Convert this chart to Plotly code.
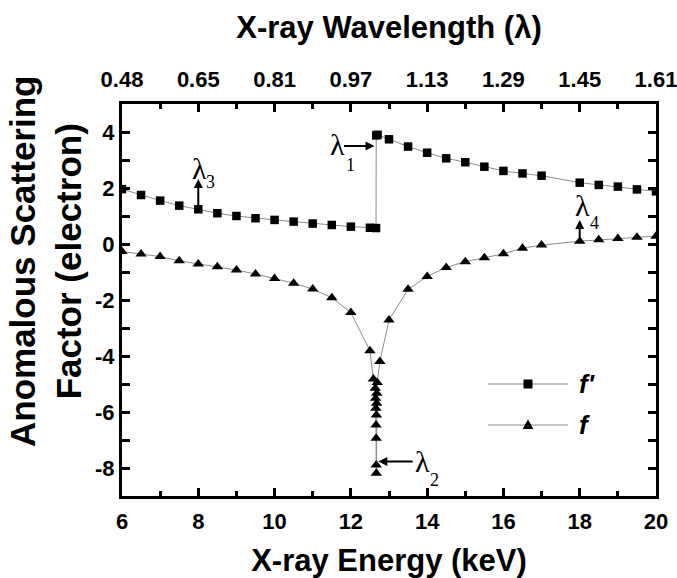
import plotly.graph_objects as go

# f'' (squares) versus X-ray energy in keV
energy_fpp = [6.0, 6.5, 7.0, 7.5, 8.0, 8.5, 9.0, 9.5, 10.0, 10.5, 11.0, 11.5, 12.0, 12.5,
              12.66, 12.665, 12.70,
              13.0, 13.5, 14.0, 14.5, 15.0, 15.5, 16.0, 16.5, 17.0,
              18.0, 18.5, 19.0, 19.5, 20.0]
fpp_values = [1.96, 1.75, 1.55, 1.37, 1.24, 1.10, 1.00, 0.92, 0.86, 0.80, 0.73, 0.68, 0.62, 0.58,
              0.57, 3.88, 3.90,
              3.74, 3.48, 3.26, 3.06, 2.92, 2.76, 2.61, 2.52, 2.44,
              2.19, 2.11, 2.05, 1.95, 1.88]

# f' (triangles) versus X-ray energy in keV, with the dense scan across the edge
energy_fp = [6.0, 6.5, 7.0, 7.5, 8.0, 8.5, 9.0, 9.5, 10.0, 10.5, 11.0, 11.5, 12.0, 12.5, 12.59,
             12.64, 12.65, 12.655, 12.66, 12.663, 12.665, 12.667,
             12.67, 12.675, 12.68, 12.69, 12.76,
             13.0, 13.5, 14.0, 14.5, 15.0, 15.5, 16.0, 16.5, 17.0,
             18.0, 18.5, 19.0, 19.5, 20.0]
fp_values = [-0.27, -0.36, -0.45, -0.60, -0.71, -0.81, -0.93, -1.07, -1.23, -1.40, -1.61, -1.92, -2.45, -3.81, -4.82,
             -5.15, -5.51, -5.87, -6.46, -6.94, -7.89, -8.19,
             -6.11, -5.69, -5.33, -4.95, -4.20,
             -2.71, -1.62, -1.16, -0.84, -0.63, -0.49, -0.35, -0.15, -0.04,
             0.10, 0.15, 0.20, 0.24, 0.28]

# axis ticks
energy_ticks = [6, 8, 10, 12, 14, 16, 18, 20]
wavelength_labels = ["0.48", "0.65", "0.81", "0.97", "1.13", "1.29", "1.45", "1.61"]
factor_ticks = [-8, -6, -4, -2, 0, 2, 4]

# wavelength markers: (subscript, arrow head x, y, arrow tail x, y,
#                      label x, y, subscript x, y)
lambda_marks = [
    ("1", 12.62, 3.50, 11.78, 3.50, 11.64, 3.54, 11.98, 2.82),
    ("2", 12.72, -7.77, 13.66, -7.77, 13.89, -7.75, 14.20, -8.43),
    ("3", 8.00, 2.32, 8.00, 1.30, 8.02, 2.70, 8.31, 2.21),
    ("4", 18.00, 0.86, 18.00, 0.18, 18.07, 1.39, 18.38, 0.76),
]

W, H = 677, 578
M_L, M_R, M_T, M_B = 122, 21, 104, 82
LINE_GREY = "#8c8c8c"
BOLD = "Liberation Sans"
SERIF = "Liberation Serif"


def px_x(p):
    """Pixel column -> paper x."""
    return (p - M_L) / (W - M_L - M_R)


def px_y(p):
    """Pixel row -> paper y."""
    return (H - M_B - p) / (H - M_T - M_B)


fig = go.Figure()

fig.add_trace(go.Scatter(
    x=energy_fpp, y=fpp_values, mode="lines+markers", name="f'",
    line=dict(color=LINE_GREY, width=1),
    marker=dict(symbol="square", size=8.5, color="black"),
    showlegend=False, cliponaxis=True,
))
fig.add_trace(go.Scatter(
    x=energy_fp, y=fp_values, mode="lines+markers", name="f",
    line=dict(color=LINE_GREY, width=1),
    marker=dict(symbol="triangle-up", size=10, color="black"),
    showlegend=False, cliponaxis=True,
))
# carrier for the wavelength axis along the top
fig.add_trace(go.Scatter(
    x=energy_ticks, y=[None] * len(energy_ticks), xaxis="x2", yaxis="y",
    mode="markers", showlegend=False, hoverinfo="skip",
))

# hand-drawn legend box (sample line, symbol, label)
legend_rows = [("f'", "square", 384), ("f", "triangle", 425)]
shapes = []
for txt, sym, row in legend_rows:
    shapes.append(dict(type="line", xref="paper", yref="paper",
                       x0=px_x(488), x1=px_x(568), y0=px_y(row), y1=px_y(row),
                       line=dict(color=LINE_GREY, width=1.2)))
    if sym == "square":
        shapes.append(dict(type="rect", xref="paper", yref="paper",
                           x0=px_x(523.5), x1=px_x(532.5), y0=px_y(row + 4.5), y1=px_y(row - 4.5),
                           fillcolor="black", line=dict(width=0)))
    else:
        shapes.append(dict(type="path", xref="paper", yref="paper",
                           path=(f"M {px_x(522.5)} {px_y(row + 4)} L {px_x(533.5)} {px_y(row + 4)} "
                                 f"L {px_x(528)} {px_y(row - 5.5)} Z"),
                           fillcolor="black", line=dict(width=0)))
    fig.add_annotation(
        x=px_x(577), y=px_y(row), xref="paper", yref="paper",
        text=f"<b><i>{txt}</i></b>", showarrow=False,
        xanchor="left", yanchor="middle",
        font=dict(family=BOLD, size=26, color="black"),
    )

for sub, hx, hy, tx, ty, lx, ly, sx, sy in lambda_marks:
    fig.add_annotation(
        x=hx, y=hy, ax=tx, ay=ty, xref="x", yref="y", axref="x", ayref="y",
        text="", showarrow=True, arrowhead=2, arrowsize=0.9, arrowwidth=2,
        arrowcolor="black", standoff=0, startstandoff=0,
    )
    fig.add_annotation(
        x=lx, y=ly, xref="x", yref="y", text="λ", showarrow=False,
        font=dict(family=SERIF, size=30, color="black"),
    )
    fig.add_annotation(
        x=sx, y=sy, xref="x", yref="y", text=sub, showarrow=False,
        font=dict(family=SERIF, size=18, color="black"),
    )

# y axis title as a two-line rotated label
fig.add_annotation(
    x=px_x(45), y=px_y(262), xref="paper", yref="paper",
    text="<b>Anomalous Scattering<br>Factor (electron)</b>",
    textangle=-90, showarrow=False, xanchor="center", yanchor="middle",
    font=dict(family=BOLD, size=35, color="black"),
)

axis_common = dict(
    showline=True, linecolor="black", linewidth=3, mirror="allticks",
    ticks="inside", ticklen=8, tickwidth=3, tickcolor="black",
    showgrid=False, zeroline=False, automargin=False,
    ticklabeloverflow="allow",
    tickfont=dict(family=BOLD, size=22, color="black"),
)

fig.update_layout(
    width=W, height=H,
    margin=dict(l=M_L, r=M_R, t=M_T, b=M_B),
    paper_bgcolor="white", plot_bgcolor="white",
    shapes=shapes,
    xaxis=dict(
        range=[6, 20], tickvals=energy_ticks,
        ticktext=[f"<b>{v}</b>" for v in energy_ticks],
        ticklabelstandoff=4,
        minor=dict(dtick=1, tick0=6, ticks="inside", ticklen=5, tickwidth=3, tickcolor="black"),
        title=dict(text="<b>X-ray Energy (keV)</b>", standoff=33,
                   font=dict(family=BOLD, size=31, color="black")),
        **axis_common,
    ),
    xaxis2=dict(
        range=[6, 20], overlaying="x", side="top", anchor="y",
        tickvals=energy_ticks,
        ticktext=[f"<b>{t}</b>" for t in wavelength_labels],
        ticklabelstandoff=12, automargin=False, ticklabeloverflow="allow",
        ticks="", showline=False, showgrid=False, zeroline=False,
        tickfont=dict(family=BOLD, size=22, color="black"),
        title=dict(text="<b>X-ray Wavelength (λ)</b>", standoff=18,
                   font=dict(family=BOLD, size=31, color="black")),
    ),
    yaxis=dict(
        range=[-9, 5], tickvals=factor_ticks,
        ticktext=[f"<b>{v}</b>" for v in factor_ticks],
        minor=dict(dtick=1, tick0=-9, ticks="inside", ticklen=5, tickwidth=3, tickcolor="black"),
        **axis_common,
    ),
    showlegend=False,
)

fig.write_html("out.html")
